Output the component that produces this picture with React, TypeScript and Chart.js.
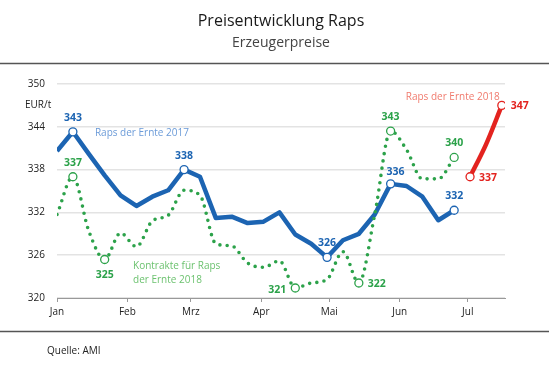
import React, { useEffect, useRef } from "react";
import { Chart, registerables } from "chart.js";

Chart.register(...registerables);

const FONT = "'Open Sans', 'DejaVu Sans', sans-serif";

// ---- data ----
const monthLabels = ["Jan", "Feb", "Mrz", "Apr", "Mai", "Jun", "Jul"];
const monthDays = [0, 31, 59, 90, 120, 151, 181];
const yTicks = [320, 326, 332, 338, 344, 350];

const weekDays = [0, 7, 14, 21, 28, 35, 42, 49, 56, 63, 70, 77, 84, 91, 98, 105, 112, 119, 126, 133, 140, 147, 154, 161, 168, 175];
const raps2017 = [340.6, 343.3, 340.2, 337.2, 334.4, 332.9, 334.2, 335.1, 338.0, 337.0, 331.2, 331.4, 330.5, 330.7, 332.0, 328.9, 327.6, 325.7, 328.1, 329.0, 331.7, 336.0, 335.7, 334.2, 330.9, 332.3];
const kontrakte2018 = [331.7, 337.0, 329.4, 325.4, 329.1, 327.2, 330.8, 331.6, 335.1, 334.4, 327.6, 327.3, 324.9, 324.3, 325.2, 321.4, 322.1, 322.6, 326.5, 322.1, 331.7, 343.4, 340.8, 336.7, 336.7, 339.7];
const raps2018Days = [182, 189, 196];
const raps2018 = [337.0, 341.5, 347.0];

const raps2017Labeled = [1, 8, 17, 21, 25];
const kontrakteLabeled = [1, 3, 15, 19, 21, 25];
const raps2018Labeled = [0, 2];

const seriesNames = ["Raps der Ernte 2017", "Kontrakte für Raps", "der Ernte 2018", "Raps der Ernte 2018"];

// ---- styles ----
const BLUE = "#1c64b2";
const GREEN = "#2ca24a";
const RED = "#e3231f";
const BLUE_LIGHT = "#6b9bd8";
const GREEN_LIGHT = "#6cc26f";
const RED_LIGHT = "#f07b6e";

type Place = "above" | "below" | "left" | "right" | "aboveRight";
const raps2017Places: Place[] = ["above", "above", "above", "aboveRight", "above"];
const kontraktePlaces: Place[] = ["above", "below", "left", "right", "above", "above"];
const raps2018Places: Place[] = ["right", "right"];

function toXY(xs: number[], ys: number[]) {
  return ys.map((y, i) => ({ x: xs[i], y }));
}
function radii(n: number, idx: number[]) {
  return Array.from({ length: n }, (_, i) => (idx.includes(i) ? 4 : 0));
}

function drawLabels(chart: any, dsIndex: number, idx: number[], places: Place[], color: string) {
  const ctx = chart.ctx;
  const meta = chart.getDatasetMeta(dsIndex);
  const ds = chart.data.datasets[dsIndex];
  ctx.save();
  ctx.font = `bold 10.5px ${FONT}`;
  ctx.fillStyle = color;
  ctx.textBaseline = "middle";
  idx.forEach((i, j) => {
    const el = meta.data[i];
    const txt = String(Math.round(ds.data[i].y));
    const p = places[j];
    let x = el.x, y = el.y;
    if (p === "above") { ctx.textAlign = "center"; y -= 14; }
    else if (p === "aboveRight") { ctx.textAlign = "center"; x += 5; y -= 12; }
    else if (p === "below") { ctx.textAlign = "center"; y += 16; }
    else if (p === "left") { ctx.textAlign = "right"; x -= 9; y += 2; }
    else { ctx.textAlign = "left"; x += 9; y += 1; }
    ctx.fillText(txt, x, y);
  });
  ctx.restore();
}

const decor = {
  id: "decor",
  beforeDraw(chart: any) {
    const ctx = chart.ctx;
    ctx.save();
    ctx.fillStyle = "#fff";
    ctx.fillRect(0, 0, chart.width, chart.height);
    ctx.restore();
  },
  afterDatasetsDraw(chart: any) {
    drawLabels(chart, 1, raps2017Labeled, raps2017Places, BLUE);
    drawLabels(chart, 0, kontrakteLabeled, kontraktePlaces, GREEN);
    drawLabels(chart, 2, raps2018Labeled, raps2018Places, RED);

    const ctx = chart.ctx;
    const xs = chart.scales.x;
    const ys = chart.scales.y;
    ctx.save();
    ctx.font = `10px ${FONT}`;
    ctx.textBaseline = "middle";
    ctx.textAlign = "left";
    ctx.fillStyle = BLUE_LIGHT;
    ctx.fillText(seriesNames[0], xs.getPixelForValue(16.7), ys.getPixelForValue(343.1));
    ctx.fillStyle = GREEN_LIGHT;
    ctx.fillText(seriesNames[1], xs.getPixelForValue(33.5), ys.getPixelForValue(324.5));
    ctx.fillText(seriesNames[2], xs.getPixelForValue(33.5), ys.getPixelForValue(324.5) + 14);
    ctx.fillStyle = RED_LIGHT;
    ctx.textAlign = "right";
    ctx.fillText(seriesNames[3], xs.getPixelForValue(195.1), ys.getPixelForValue(348.2));
    ctx.restore();
  },
  afterDraw(chart: any) {
    const ctx = chart.ctx;
    ctx.save();
    ctx.textAlign = "center";
    ctx.textBaseline = "middle";
    ctx.fillStyle = "#1a1a1a";
    ctx.font = `16px ${FONT}`;
    ctx.fillText("Preisentwicklung Raps", 281, 21);
    ctx.fillStyle = "#444";
    ctx.font = `14px ${FONT}`;
    ctx.fillText("Erzeugerpreise", 281, 43);

    ctx.strokeStyle = "#555";
    ctx.lineWidth = 1.5;
    ctx.beginPath();
    ctx.moveTo(0, 63.5);
    ctx.lineTo(chart.width, 63.5);
    ctx.moveTo(0, 331.5);
    ctx.lineTo(chart.width, 331.5);
    ctx.stroke();

    ctx.fillStyle = "#222";
    ctx.textAlign = "left";
    ctx.font = `10px ${FONT}`;
    ctx.fillText("EUR/t", 25, 105);
    ctx.fillText("Quelle: AMI", 47, 351);
    ctx.restore();
  },
};

export default function App() {
  const ref = useRef<HTMLCanvasElement | null>(null);
  useEffect(() => {
    if (!ref.current) return;
    const chart = new Chart(ref.current, {
      type: "line",
      data: {
        datasets: [
          {
            label: "Kontrakte für Raps der Ernte 2018",
            data: toXY(weekDays, kontrakte2018),
            borderColor: GREEN,
            borderWidth: 3.6,
            borderDash: [0, 7.3],
            borderCapStyle: "round",
            cubicInterpolationMode: "monotone",
            pointRadius: radii(kontrakte2018.length, kontrakteLabeled),
            pointBackgroundColor: "#fff",
            pointBorderColor: GREEN,
            pointBorderWidth: 1.3,
            order: 0,
          },
          {
            label: "Raps der Ernte 2017",
            data: toXY(weekDays, raps2017),
            borderColor: BLUE,
            borderWidth: 4.5,
            borderJoinStyle: "round",
            tension: 0,
            pointRadius: radii(raps2017.length, raps2017Labeled),
            pointBackgroundColor: "#fff",
            pointBorderColor: BLUE,
            pointBorderWidth: 1.3,
            order: 1,
          },
          {
            label: "Raps der Ernte 2018",
            data: toXY(raps2018Days, raps2018),
            borderColor: RED,
            borderWidth: 4.5,
            borderJoinStyle: "round",
            cubicInterpolationMode: "monotone",
            pointRadius: radii(raps2018.length, raps2018Labeled),
            pointBackgroundColor: "#fff",
            pointBorderColor: RED,
            pointBorderWidth: 1.3,
            order: 2,
          },
        ],
      },
      options: {
        responsive: false,
        animation: false,
        layout: { padding: { left: 12, right: 44, top: 84, bottom: 53 } },
        plugins: { legend: { display: false }, tooltip: { enabled: false }, title: { display: false } },
        scales: {
          x: {
            type: "linear",
            min: 0,
            max: 197.4,
            afterBuildTicks: (s: any) => { s.ticks = monthDays.map((v) => ({ value: v })); },
            afterFit: (s: any) => { s.height = 25; },
            ticks: {
              autoSkip: false,
              maxRotation: 0,
              padding: 4,
              color: "#222",
              font: { family: FONT, size: 10 },
              callback: (_v: any, i: number) => monthLabels[i],
            },
            grid: { drawOnChartArea: false, drawTicks: true, tickLength: 4, color: "#999" },
            border: { display: true, color: "#999", width: 1 },
          },
          y: {
            type: "linear",
            min: 320,
            max: 350,
            afterBuildTicks: (s: any) => { s.ticks = yTicks.map((v) => ({ value: v })); },
            afterFit: (s: any) => { s.width = 45; },
            ticks: { padding: 12, color: "#222", font: { family: FONT, size: 10 } },
            grid: { color: "#e3e3e3", lineWidth: 1.5, drawTicks: false },
            border: { display: false },
          },
        },
      },
      plugins: [decor],
    } as any);
    return () => chart.destroy();
  }, []);
  return (
    <div style={{ position: "absolute", left: 0, top: 0, width: 549, height: 376 }}>
      <canvas ref={ref} width={549} height={376} style={{ display: "block", width: 549, height: 376 }} />
    </div>
  );
}
